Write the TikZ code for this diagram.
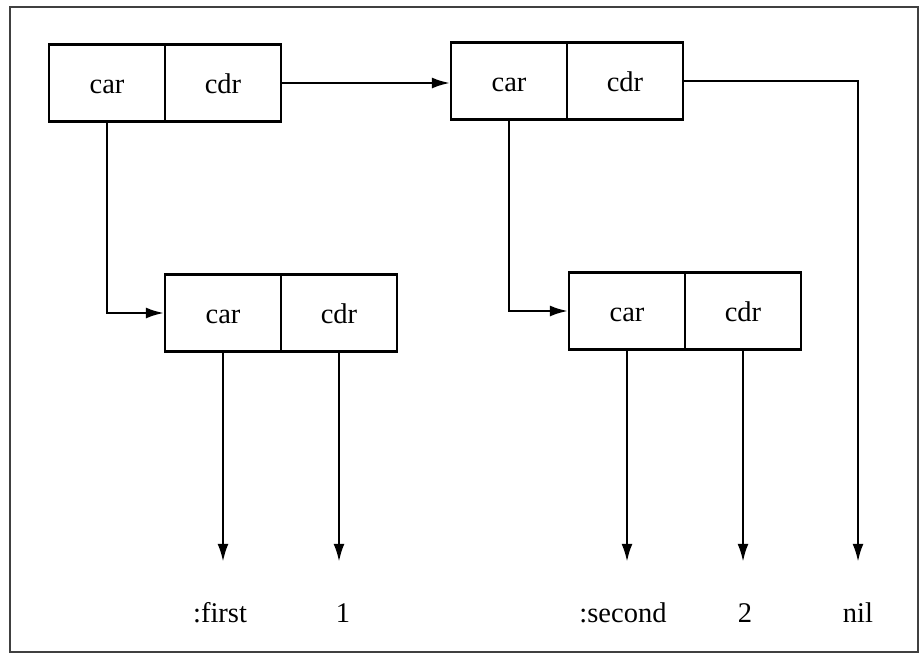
\documentclass[tikz,border=0pt]{standalone}
\usepackage{fontspec}
\setmainfont{Liberation Serif}
\usetikzlibrary{arrows.meta}
\begin{document}
\begin{tikzpicture}[x=1pt,y=-1pt,
  cell/.style={draw,line width=2.2pt,minimum width=116pt,minimum height=77pt,
    inner sep=0pt,text height=21pt,text depth=0pt,font=\fontsize{28.5}{30}\selectfont},
  lbl/.style={anchor=base,inner sep=0pt,text height=16pt,text depth=0pt,
    font=\fontsize{28.5}{30}\selectfont},
  ptr/.style={line width=2.4pt,-{Latex[length=18pt,width=11pt]}},
  lead/.style={ptr,shorten >=44pt}]
  \useasboundingbox (0,0) rectangle (920,654);
  \draw[line width=1.3pt,black!75] (10,7) rectangle (918,652);

  % top row of cons cells
  \node[cell] (acar) at (107,83) {car};
  \node[cell] (acdr) at (223,83) {cdr};
  \node[cell] (bcar) at (509,81) {car};
  \node[cell] (bcdr) at (625,81) {cdr};

  % second row of cons cells
  \node[cell] (ccar) at (223,313) {car};
  \node[cell] (ccdr) at (339,313) {cdr};
  \node[cell] (dcar) at (627,311) {car};
  \node[cell] (dcdr) at (743,311) {cdr};

  % atoms
  \node[lbl] (first)  at (220,622) {:first};
  \node[lbl] (one)    at (343,622) {1};
  \node[lbl] (second) at (623,622) {:second};
  \node[lbl] (two)    at (745,622) {2};
  \node[lbl] (nil)    at (858,622) {nil};

  % links between cells
  \draw[ptr] (acdr.east) -- (acdr.east -| bcar.west);
  \draw[ptr] (acar.south) |- (ccar.west);
  \draw[ptr] (bcar.south) |- (dcar.west);

  % links to atoms
  \draw[lead] (ccar.south) -- (ccar.south |- first.north);
  \draw[lead] (ccdr.south) -- (ccdr.south |- one.north);
  \draw[lead] (dcar.south) -- (dcar.south |- second.north);
  \draw[lead] (dcdr.south) -- (dcdr.south |- two.north);
  \draw[lead] (bcdr.east) -| (nil.north);
\end{tikzpicture}
\end{document}
